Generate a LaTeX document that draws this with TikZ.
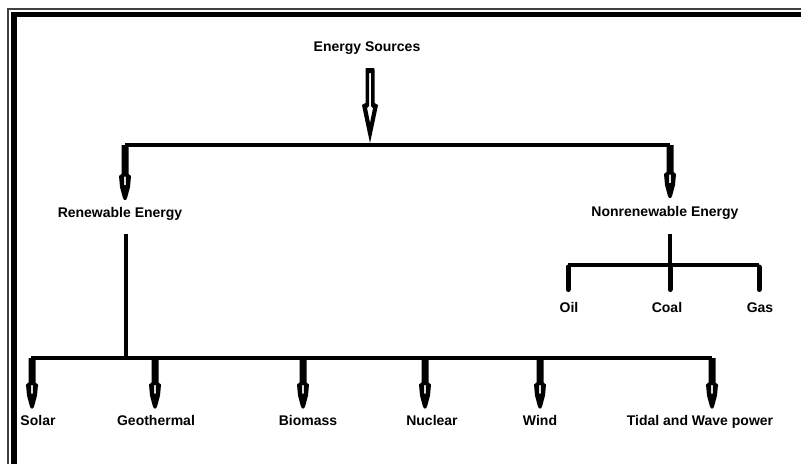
\documentclass[tikz,border=0pt]{standalone}
\usepackage{fontspec}
\setmainfont{Liberation Sans}
\usetikzlibrary{calc}
\tikzset{
  lbl/.style={font=\fontsize{14}{16}\selectfont\bfseries, inner sep=0pt, text height=10pt, text depth=3pt},
  barline/.style={line width=4.5pt},
  fatarrow/.style={fill=black, even odd rule, draw=none,
    to path={let \p1=(\tikztostart), \p2=(\tikztotarget) in
      (\x1-3.5pt,\y1) -- (\x1-3.5pt,\y2+26pt) -- (\x1-6pt,\y2+24pt) -- (\x1-5pt,\y2+13pt)
      -- (\x1-2.2pt,\y2+2.5pt) .. controls (\x1-1.2pt,\y2) .. (\x2,\y2)
      .. controls (\x1+1.2pt,\y2) .. (\x1+2.2pt,\y2+2.5pt)
      -- (\x1+5pt,\y2+13pt) -- (\x1+6pt,\y2+24pt) -- (\x1+3.5pt,\y2+26pt) -- (\x1+3.5pt,\y1) -- cycle
      (\x1-0.8pt,\y2+23.5pt) rectangle (\x1+0.8pt,\y2+15pt)}},
  hollowarrow/.style={fill=black, even odd rule, draw=none,
    to path={let \p1=(\tikztostart), \p2=(\tikztotarget) in
      (\x1-4.5pt,\y1-2pt) .. controls (\x1-4.5pt,\y1) .. (\x1-2pt,\y1)
      -- (\x1+2pt,\y1) .. controls (\x1+4.5pt,\y1) .. (\x1+4.5pt,\y1-2pt)
      -- (\x1+4.5pt,\y2+40pt) -- (\x1+8pt,\y2+38pt) -- (\x1+7pt,\y2+33pt)
      -- (\x2,\y2) -- (\x1-7pt,\y2+33pt) -- (\x1-8pt,\y2+38pt) -- (\x1-4.5pt,\y2+40pt) -- cycle
      (\x1-1pt,\y1-5pt) -- (\x1-1pt,\y2+37pt) -- (\x1-3pt,\y2+35pt) -- (\x1,\y2+20pt)
      -- (\x1+3pt,\y2+35pt) -- (\x1+1pt,\y2+37pt) -- (\x1+1pt,\y1-5pt) -- cycle}},
  stub/.style={line width=5pt, line cap=round},
}
\begin{document}
\begin{tikzpicture}[x=1pt,y=-1pt]
\useasboundingbox (0,0) rectangle (801,464);
% frame
\draw[black!75, line width=1.3pt] (8,464) -- (8,9) -- (801,9);
\draw[line width=5.5pt] (14,464) -- (14,14.5) -- (801,14.5);

% nodes
\node[lbl] (es) at (367,47.5) {Energy Sources};
\node[lbl] (ren) at (120,213.5) {Renewable Energy};
\node[lbl] (non) at (665,212.5) {Nonrenewable Energy};
\node[lbl] (oil) at (569,308.5) {Oil};
\node[lbl] (coal) at (667,308.5) {Coal};
\node[lbl] (gas) at (760,308.5) {Gas};
\node[lbl] (solar) at (38,421.5) {Solar};
\node[lbl] (geo) at (156,421.5) {Geothermal};
\node[lbl] (bio) at (308,421.5) {Biomass};
\node[lbl] (nuc) at (432,421.5) {Nuclear};
\node[lbl] (wind) at (540,421.5) {Wind};
\node[lbl] (tidal) at (700,421.5) {Tidal and Wave power};

% junction coordinates
\coordinate (tM) at (370,145);
\coordinate (tL) at (125,145);
\coordinate (tR) at (670,145);
\coordinate (rj) at (126,358);
\coordinate (b1) at (32,358);
\coordinate (b2) at (155,358);
\coordinate (b3) at (303,358);
\coordinate (b4) at (425,358);
\coordinate (b5) at (540,358);
\coordinate (b6) at (712,358);
\coordinate (nj) at (670,265);
\coordinate (n1) at (568,265);
\coordinate (n3) at (759,265);

% top
\path[hollowarrow] ([yshift=-20.5pt]es.center -| tM) to ([yshift=2pt]tM);
\draw[barline] (tL) -- (tR);
\path[fatarrow] (tL) to ([yshift=13.5pt]tL |- ren);
\path[fatarrow] (tR) to ([yshift=14.5pt]tR |- non);

% renewable branch
\draw[barline, shorten <=20pt] (ren.center -| rj) -- (rj);
\draw[barline] ([xshift=-1pt]b1) -- (b6);
\foreach \b/\t in {b1/solar,b2/geo,b3/bio,b4/nuc,b5/wind,b6/tidal}{
  \path[fatarrow] (\b) to ([yshift=13pt]\b |- \t);
}

% nonrenewable branch
\draw[barline, shorten <=21pt] (non.center -| nj) -- (nj);
\draw[barline] (n1) -- (n3);
\draw[stub, shorten >=19pt] ([yshift=-2pt]n1) -- (n1 |- oil);
\draw[stub, shorten >=19pt] ([yshift=-2pt]nj) -- (nj |- coal);
\draw[stub, shorten >=19pt] ([yshift=-2pt]n3) -- (n3 |- gas);
\end{tikzpicture}
\end{document}
